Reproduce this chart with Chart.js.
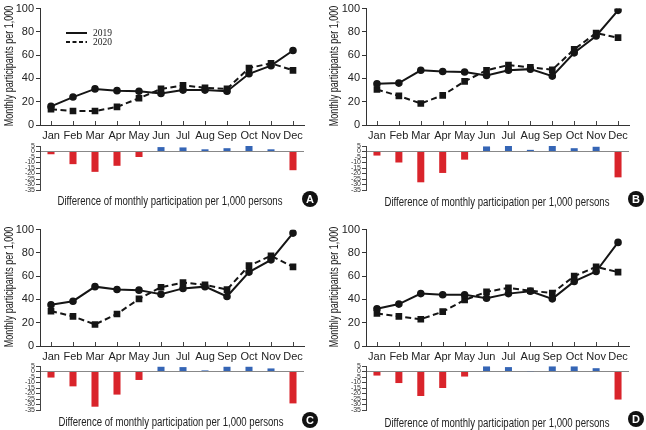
<!DOCTYPE html>
<html>
<head>
<meta charset="utf-8">
<script src="https://cdn.jsdelivr.net/npm/chart.js@4/dist/chart.umd.min.js"></script>
<style>
  body { margin: 0; background: #fff; width: 646px; height: 430px; position: relative; overflow: hidden;
         font-family: "Liberation Sans", Arial, sans-serif; }
  canvas { position: absolute; }
  .cap { position: absolute; font-size: 12px; color: #222; white-space: nowrap; transform: translate(-50%, -50%) scaleX(0.8); }
  .ytitle { position: absolute; font-size: 12px; color: #222; white-space: nowrap;
            transform: translate(-50%, -50%) rotate(-90deg) scaleX(0.75); }
  .badge { position: absolute; width: 16px; height: 16px; border-radius: 50%; background: #111; color: #fff;
           font: bold 11px "Liberation Sans", sans-serif; text-align: center; line-height: 16px; transform: translate(-50%, -50%); }
</style>
</head>
<body>
<canvas id="lineA" width="310" height="145" style="left:0px;top:0px"></canvas>
<canvas id="barA" width="310" height="56" style="left:0px;top:140px"></canvas>
<canvas id="lineB" width="309" height="145" style="left:326px;top:0px"></canvas>
<canvas id="barB" width="309" height="56" style="left:326px;top:140px"></canvas>
<canvas id="lineC" width="310" height="145" style="left:0px;top:221px"></canvas>
<canvas id="barC" width="310" height="56" style="left:0px;top:360px"></canvas>
<canvas id="lineD" width="309" height="145" style="left:326px;top:221px"></canvas>
<canvas id="barD" width="309" height="56" style="left:326px;top:360px"></canvas>

<div class="ytitle" style="left:9px;top:66px">Monthly participants per 1,000</div>
<div class="ytitle" style="left:334px;top:66px">Monthly participants per 1,000</div>
<div class="ytitle" style="left:9px;top:287px">Monthly participants per 1,000</div>
<div class="ytitle" style="left:334px;top:287px">Monthly participants per 1,000</div>

<div class="cap" style="left:170px;top:201px">Difference of monthly participation per 1,000 persons</div>
<div class="cap" style="left:497px;top:202px">Difference of monthly participation per 1,000 persons</div>
<div class="cap" style="left:171px;top:422px">Difference of monthly participation per 1,000 persons</div>
<div class="cap" style="left:497px;top:423px">Difference of monthly participation per 1,000 persons</div>
<div class="badge" style="left:310px;top:199px">A</div>
<div class="badge" style="left:636px;top:199px">B</div>
<div class="badge" style="left:310px;top:420px">C</div>
<div class="badge" style="left:636px;top:419px">D</div>

<script>
// --- data ---
const months = ['Jan', 'Feb', 'Mar', 'Apr', 'May', 'Jun', 'Jul', 'Aug', 'Sep', 'Oct', 'Nov', 'Dec'];
const lineTicks = [0, 20, 40, 60, 80, 100];
const diffTicks = [5, 0, -5, -10, -15, -20, -25, -30, -35];

const a2019 = [16, 24, 31, 29.5, 29, 27, 30, 30, 29, 44, 51, 64];
const a2020 = [13.5, 12, 12, 15.5, 23, 31, 34, 32, 31, 49, 53, 47];
const aDiff = [-2.5, -11.5, -18.5, -13, -5, 4, 3.7, 2, 3, 5.3, 2, -17];

const b2019 = [35.5, 36, 47, 46, 45.5, 42.5, 47, 48, 42, 62, 76.5, 98.5];
const b2020 = [30.5, 25, 18.5, 25.5, 37.5, 47, 51.5, 49.5, 47.5, 65, 79, 75];
const bDiff = [-3.7, -10, -28, -19.5, -7.4, 4.6, 5, 1.5, 5.5, 3, 4.3, -23.5];

const c2019 = [35.5, 38.5, 51, 48.5, 48, 44.5, 49.5, 51, 42.5, 63.5, 74, 97];
const c2020 = [30, 25.5, 18.5, 27.5, 40.5, 50.5, 54.5, 52.5, 48.5, 69, 77.5, 68];
const cDiff = [-5.5, -13.5, -32, -21, -7.7, 4.3, 4, 1, 4.3, 4.3, 2.8, -29];

const d2019 = [32, 36, 45, 44, 44, 41, 45, 47, 40.5, 55.5, 64, 89];
const d2020 = [28, 25.5, 23, 29.5, 39.5, 46.5, 50, 47.5, 45.5, 60, 68, 63.5];
const dDiff = [-3.7, -10.5, -22.3, -15, -4.6, 4.6, 4, 0.3, 4.6, 4.6, 3, -25.5];

const FONT = '"Liberation Sans", Arial, sans-serif';
const RED = '#d9242b';
const BLUE = '#3565b5';
const INK = '#151515';

// small tick marks pointing up from the x axis
const innerTicks = {
  id: 'innerTicks',
  afterDraw(chart) {
    const x = chart.scales.x, ctx = chart.ctx, b = chart.chartArea.bottom;
    ctx.save();
    ctx.strokeStyle = '#444';
    ctx.lineWidth = 1;
    x.ticks.forEach((t, i) => {
      const px = Math.round(x.getPixelForTick(i)) + 0.5;
      ctx.beginPath();
      ctx.moveTo(px, b);
      ctx.lineTo(px, b - 4);
      ctx.stroke();
    });
    ctx.restore();
  }
};

// legend drawn inside panel A
const lineLegend = {
  id: 'lineLegend',
  afterDraw(chart) {
    const ctx = chart.ctx;
    ctx.save();
    ctx.strokeStyle = INK;
    ctx.lineWidth = 2;
    ctx.beginPath(); ctx.moveTo(66, 33); ctx.lineTo(87, 33); ctx.stroke();
    ctx.setLineDash([4, 2.5]);
    ctx.beginPath(); ctx.moveTo(66, 42); ctx.lineTo(87, 42); ctx.stroke();
    ctx.setLineDash([]);
    ctx.fillStyle = '#222';
    ctx.font = '9.5px "Liberation Serif", serif';
    ctx.textBaseline = 'middle';
    chart.data.datasets.forEach((ds, i) => ctx.fillText(ds.label, 93, 33 + i * 9));
    ctx.restore();
  }
};

function makeLine(id, v19, v20, withLegend) {
  new Chart(document.getElementById(id), {
    type: 'line',
    data: {
      labels: months,
      datasets: [
        { label: '2019', data: v19, borderColor: INK, backgroundColor: INK, borderWidth: 2,
          pointStyle: 'circle', pointRadius: 2.8, tension: 0 },
        { label: '2020', data: v20, borderColor: INK, backgroundColor: INK, borderWidth: 2,
          borderDash: [6, 3.5], pointStyle: 'rect', pointRadius: 3.3, tension: 0 }
      ]
    },
    options: {
      responsive: false,
      animation: false,
      layout: { padding: { top: 7, right: 6, left: 0, bottom: 0 } },
      plugins: { legend: { display: false }, tooltip: { enabled: false } },
      scales: {
        x: {
          offset: true,
          grid: { display: false, drawTicks: false },
          border: { display: true, color: '#333', width: 1 },
          ticks: { padding: 4, color: '#222', maxRotation: 0, autoSkip: false, font: { family: FONT, size: 11 } },
          afterFit(s) { s.height = 20; }
        },
        y: {
          min: 0, max: 100,
          afterBuildTicks(s) { s.ticks = lineTicks.map(v => ({ value: v })); },
          grid: { drawOnChartArea: false, tickLength: 4, color: '#333' },
          border: { color: '#333', width: 1 },
          ticks: { padding: 2, color: '#222', font: { family: FONT, size: 11 } },
          afterFit(s) { s.width = 40; }
        }
      }
    },
    plugins: withLegend ? [innerTicks, lineLegend] : [innerTicks]
  });
}

function makeDiff(id, diffs) {
  new Chart(document.getElementById(id), {
    type: 'bar',
    data: {
      labels: months,
      datasets: [{ data: diffs, backgroundColor: diffs.map(v => v < 0 ? RED : BLUE),
                   barPercentage: 0.8, categoryPercentage: 0.4 }]
    },
    options: {
      responsive: false,
      animation: false,
      layout: { padding: { top: 6, right: 6, left: 0, bottom: 6 } },
      plugins: { legend: { display: false }, tooltip: { enabled: false } },
      scales: {
        x: { display: false, offset: true },
        y: {
          min: -35, max: 5,
          afterBuildTicks(s) { s.ticks = diffTicks.map(v => ({ value: v })); },
          grid: { color: c => (c.tick && c.tick.value === 0) ? '#888' : 'rgba(0,0,0,0)',
                  tickColor: '#444', tickLength: 4 },
          border: { color: '#444', width: 1 },
          ticks: { autoSkip: false, padding: 1, color: '#333', font: { family: FONT, size: 7 } },
          afterFit(s) { s.width = 40; }
        }
      }
    }
  });
}

makeLine('lineA', a2019, a2020, true);
makeDiff('barA', aDiff);
makeLine('lineB', b2019, b2020, false);
makeDiff('barB', bDiff);
makeLine('lineC', c2019, c2020, false);
makeDiff('barC', cDiff);
makeLine('lineD', d2019, d2020, false);
makeDiff('barD', dDiff);
</script>
</body>
</html>
